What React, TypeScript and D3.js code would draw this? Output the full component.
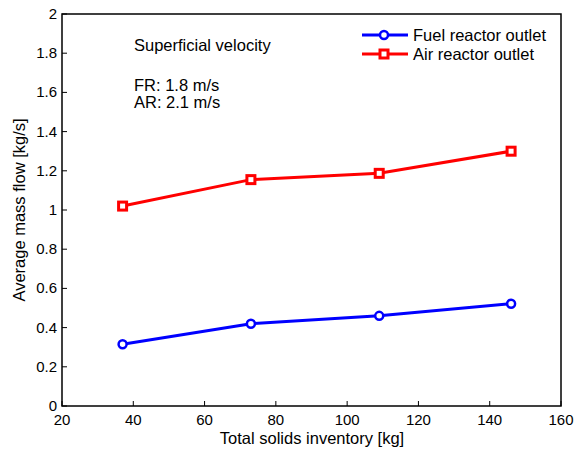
import React from "react";
import * as d3 from "d3";

const inventory = [37, 73, 109, 146];
const fuelOutlet = [0.315, 0.42, 0.46, 0.522];
const airOutlet = [1.02, 1.155, 1.187, 1.30];
const xTicks = [20, 40, 60, 80, 100, 120, 140, 160];
const yTicks = [0, 0.2, 0.4, 0.6, 0.8, 1, 1.2, 1.4, 1.6, 1.8, 2];
const seriesNames = ["Fuel reactor outlet", "Air reactor outlet"];
const annotation = ["Superficial velocity", "FR: 1.8 m/s", "AR: 2.1 m/s"];

const W = 575, H = 454;
const L = 62, R = 561, T = 14, B = 406;
const font = "'Liberation Sans', Arial, sans-serif";
const tickFs = 15;
const labelFs = 16.5;

export default function App() {
  const x = d3.scaleLinear().domain([20, 160]).range([L, R]);
  const y = d3.scaleLinear().domain([0, 2]).range([B, T]);
  const line = d3.line<number>().x((_, i) => x(inventory[i])).y((d) => y(d));

  return (
    <svg width={W} height={H} style={{ position: "absolute", left: 0, top: 0, background: "#fff" }} fontFamily={font}>
      <rect x={0} y={0} width={W} height={H} fill="#fff" />
      <rect x={L} y={T} width={R - L} height={B - T} fill="none" stroke="#000" strokeWidth={1.5} />
      {xTicks.map((t) => (
        <g key={"x" + t}>
          <line x1={x(t)} x2={x(t)} y1={B} y2={B - 5} stroke="#000" strokeWidth={1} />
          <text x={x(t)} y={B + 19} fontSize={tickFs} textAnchor="middle">{t}</text>
        </g>
      ))}
      {yTicks.map((t) => (
        <g key={"y" + t}>
          <line x1={L} x2={L + 5} y1={y(t)} y2={y(t)} stroke="#000" strokeWidth={1} />
          <text x={L - 5} y={y(t) + 5} fontSize={tickFs} textAnchor="end">{d3.format("~g")(t)}</text>
        </g>
      ))}
      <text x={312} y={444} fontSize={labelFs} textAnchor="middle">Total solids inventory [kg]</text>
      <text transform={`translate(25,${(T + B) / 2}) rotate(-90)`} fontSize={labelFs} textAnchor="middle">Average mass flow [kg/s]</text>

      <path d={line(fuelOutlet) || ""} fill="none" stroke="#0000ff" strokeWidth={3} />
      {fuelOutlet.map((v, i) => (
        <circle key={"f" + i} cx={x(inventory[i])} cy={y(v)} r={4} fill="#fff" stroke="#0000ff" strokeWidth={2.5} />
      ))}
      <path d={line(airOutlet) || ""} fill="none" stroke="#ff0000" strokeWidth={3} />
      {airOutlet.map((v, i) => (
        <rect key={"a" + i} x={x(inventory[i]) - 4} y={y(v) - 4} width={8} height={8} fill="#fff" stroke="#ff0000" strokeWidth={3} />
      ))}

      <text x={134} y={51} fontSize={labelFs}>{annotation[0]}</text>
      <text x={134} y={91} fontSize={labelFs}>{annotation[1]}</text>
      <text x={134} y={108} fontSize={labelFs}>{annotation[2]}</text>

      <g>
        <line x1={362} x2={408} y1={35} y2={35} stroke="#0000ff" strokeWidth={3} />
        <circle cx={384} cy={35} r={4} fill="#fff" stroke="#0000ff" strokeWidth={2.5} />
        <text x={413} y={41} fontSize={labelFs}>{seriesNames[0]}</text>
        <line x1={362} x2={408} y1={54} y2={54} stroke="#ff0000" strokeWidth={3} />
        <rect x={384 - 4} y={54 - 4} width={8} height={8} fill="#fff" stroke="#ff0000" strokeWidth={3} />
        <text x={413} y={60} fontSize={labelFs}>{seriesNames[1]}</text>
      </g>
    </svg>
  );
}
